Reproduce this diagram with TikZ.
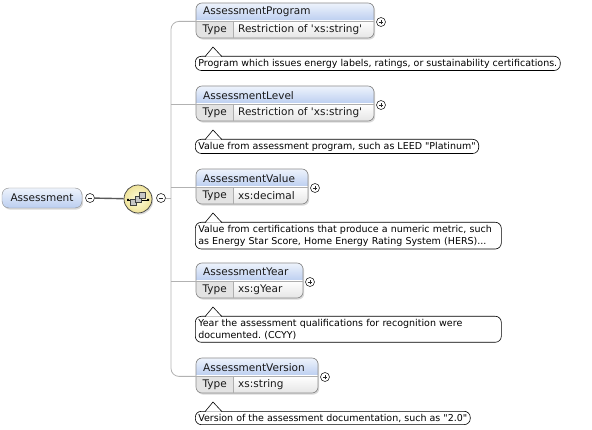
\documentclass[tikz,border=0pt]{standalone}
\usepackage{fontspec}
\newfontfamily\xsfont{DejaVu Sans}
\usetikzlibrary{positioning,shadows}
\frenchspacing

\definecolor{hdtop}{HTML}{EEF3FC}
\definecolor{hdbot}{HTML}{BBCEF0}
\definecolor{frame}{HTML}{8C8C8C}
\definecolor{treec}{HTML}{B2B2B2}
\definecolor{seqin}{HTML}{FFFCDC}
\definecolor{seqout}{HTML}{EFE39A}

\tikzset{
  txt/.style={font=\fontsize{10.5}{12}\selectfont\xsfont, text=black!90},
  hdr/.style={txt, anchor=north west, minimum height=18pt, inner xsep=7pt, inner ysep=0pt, align=left},
  typecell/.style={txt, anchor=north west, minimum width=37pt, minimum height=17pt, inner sep=0pt},
  typeval/.style={txt, anchor=north west, minimum height=17pt, inner xsep=5pt, inner ysep=0pt, align=left},
  note/.style={font=\fontsize{9.5}{12.5}\selectfont\xsfont\frenchspacing, anchor=north west, draw, line width=.6pt, fill=white, rounded corners=6pt, align=left, inner xsep=3pt, inner ysep=2.5pt},
  oneline/.style={},
  twoline/.style={text width=300pt},
  shade/.style={drop shadow={opacity=.3, shadow xshift=1.2pt, shadow yshift=-1.6pt}},
  tree/.style={draw=treec, line width=.8pt},
  link/.style={draw=black!65, line width=1.4pt},
  pm/.style={circle, draw=black!85, fill=white, inner sep=0pt, minimum size=9pt, line width=.6pt},
  minus/.style={pm, path picture={\draw[line width=.7pt] ([xshift=-2.4pt]path picture bounding box.center) -- ([xshift=2.4pt]path picture bounding box.center);}},
  plus/.style={pm, path picture={\draw[line width=.7pt] ([xshift=-2.4pt]path picture bounding box.center) -- ([xshift=2.4pt]path picture bounding box.center) ([yshift=-2.4pt]path picture bounding box.center) -- ([yshift=2.4pt]path picture bounding box.center);}},
  topel/.style={txt, draw=frame, rounded corners=7pt, top color=hdtop, bottom color=hdbot, minimum width=80pt, minimum height=20pt, inner sep=0pt, shade},
  seqnode/.style={circle, draw=black!75, line width=.7pt, inner color=seqin, outer color=seqout, minimum size=28pt, inner sep=0pt, shade}
}

\begin{document}
\begin{tikzpicture}[x=1pt,y=-1pt]
\useasboundingbox (0,0) rectangle (592,430);

% root element and sequence
\node[topel] (asm) at (42,198) {Assessment};
\node[minus] (asmm) at (90,198) {};
\node[seqnode] (seq) at (138,199) {};
\node[minus] (seqm) at (161,198) {};
\draw[link] (asmm) -- (seq);
\draw[line width=.8pt] (128,200) -- (148,200);
\fill (127,199) rectangle (129,201) (147,199) rectangle (149,201);
\foreach \cx/\cy in {133.5/202.5,138/199,142.5/195.5}
  \filldraw[fill=gray!45, draw=black!75, line width=.5pt] (\cx-2.8,\cy-2.8) rectangle (\cx+2.8,\cy+2.8);

% child elements
\foreach \id/\yt/\w/\nm/\ty/\ns/\cm in {
  prog/3/178/AssessmentProgram/Restriction of 'xs:string'/oneline/{Program which issues energy labels, ratings, or sustainability certifications.},
  lvl/86/178/AssessmentLevel/Restriction of 'xs:string'/oneline/{Value from assessment program, such as LEED "Platinum"},
  val/169/112/AssessmentValue/xs:decimal/twoline/{Value from certifications that produce a numeric metric, such\\as Energy Star Score, Home Energy Rating System (HERS)...},
  yr/263/107/AssessmentYear/xs:gYear/twoline/{Year the assessment qualifications for recognition were\\documented. (CCYY)},
  ver/358/122/AssessmentVersion/xs:string/oneline/{Version of the assessment documentation, such as "2.0"}}
{
  \fill[white, rounded corners=6pt, shade] (196,\yt) rectangle ++(\w,35);
  \begin{scope}
    \clip[rounded corners=6pt] (196,\yt) rectangle ++(\w,35);
    \fill[top color=hdtop, bottom color=hdbot] (196,\yt) rectangle ++(\w,18);
    \fill[top color=white, bottom color=black!10] (196,\yt+18) rectangle ++(\w,17);
    \fill[black!11] (196,\yt+18) rectangle ++(37,17);
  \end{scope}
  \draw[frame, rounded corners=6pt, line width=.6pt] (196,\yt) rectangle ++(\w,35);
  \draw[frame!70, line width=.5pt] (196,\yt+18) -- ++(\w,0) (233,\yt+18) -- ++(0,17);
  \pgfmathsetmacro\tw{\w-14}
  \node[hdr, text width=\tw pt] (\id) at (196,\yt) {\nm};
  \node[typecell] (\id t) at (196,\yt+18) {Type};
  \node[typeval] (\id v) at (233,\yt+18) {\ty};
  \node[plus] (\id p) at (\w+203,\yt+19) {};
  \node[note, \ns] (\id c) at (195,\yt+53) {\cm};
  \draw[fill=white, line width=.6pt] ([xshift=10pt,yshift=-.7pt]\id c.north west) -- ([xshift=18pt,yshift=9pt]\id c.north west) -- ([xshift=27pt,yshift=-.7pt]\id c.north west);
}

% connectors to the children
\coordinate (trunk) at (171,198);
\draw[tree] (seqm) -- (trunk);
\draw[tree, rounded corners=8pt] (prog.south west) -| (trunk) |- (ver.south west);
\foreach \id in {lvl,val,yr}
  \draw[tree] (trunk |- \id.south west) -- (\id.south west);
\end{tikzpicture}
\end{document}
